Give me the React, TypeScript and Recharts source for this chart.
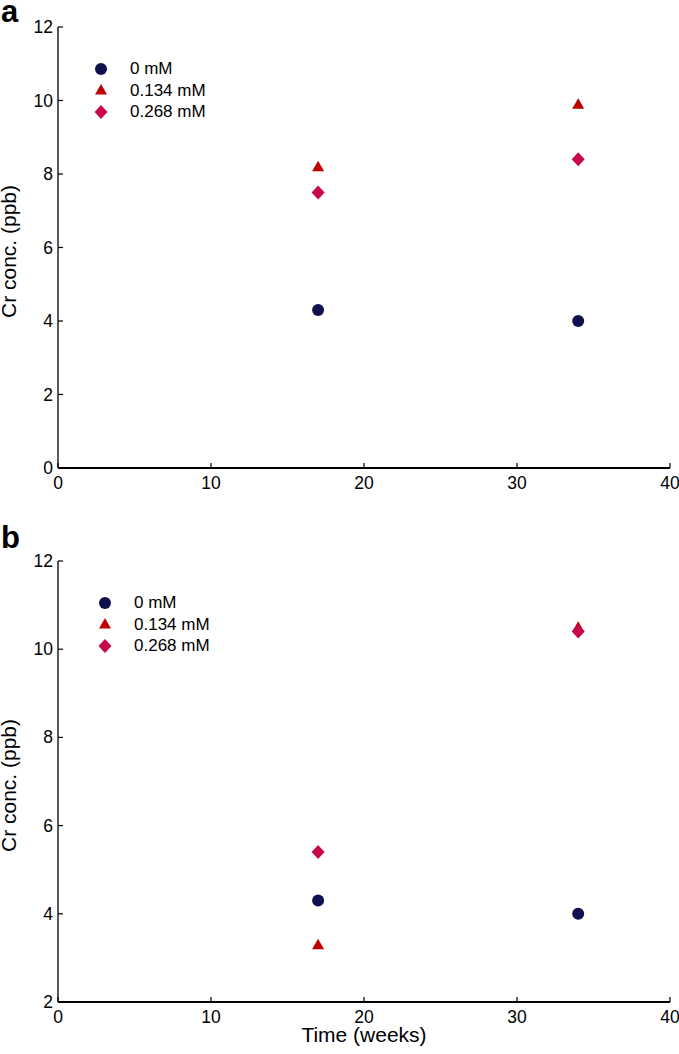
import { ScatterChart, Scatter, XAxis, YAxis, Legend } from "recharts";

// time points (weeks) shared by both panels
const weeks = [17, 34];

// panel a
const aZero = [4.3, 4.0];
const aLow = [8.2, 9.9];
const aHigh = [7.5, 8.4];

// panel b
const bZero = [4.3, 4.0];
const bLow = [3.3, 10.5];
const bHigh = [5.4, 10.4];

const seriesNames = ["0 mM", "0.134 mM", "0.268 mM"];
const xTicks = [0, 10, 20, 30, 40];
const yTicksA = [0, 2, 4, 6, 8, 10, 12];
const yTicksB = [2, 4, 6, 8, 10, 12];

const FONT = '"Liberation Sans", Arial, Helvetica, sans-serif';
const NAVY = "#10104f";
const RED = "#c00000";
const CRIMSON = "#c8084c";
const Y_MARGIN = 5;
const X_MARGIN = 8;
const TICK_FONT = 17.5;
const TITLE_FONT = 21;

const toPoints = (vals: number[]) => weeks.map((w, i) => ({ x: w, y: vals[i] }));

function Marker({ kind, cx, cy, fill }: { kind: string; cx: number; cy: number; fill: string }) {
  if (kind === "triangle") {
    return <path d={`M${cx},${cy - 6} L${cx + 6},${cy + 4.5} L${cx - 6},${cy + 4.5} Z`} fill={fill} />;
  }
  if (kind === "diamond") {
    return <path d={`M${cx},${cy - 7} L${cx + 6.5},${cy} L${cx},${cy + 7} L${cx - 6.5},${cy} Z`} fill={fill} />;
  }
  return <circle cx={cx} cy={cy} r={6} fill={fill} />;
}

const shapeFor = (kind: string, fill: string) => (p: any) =>
  <Marker kind={kind} cx={p.cx} cy={p.cy} fill={fill} />;

function YTick(props: any) {
  const { x, y, payload } = props;
  const ax = x + Y_MARGIN;
  return (
    <g>
      <line x1={ax} x2={ax + 5} y1={y} y2={y} stroke="#000" strokeWidth={1.2} />
      <text x={x} y={y + 6} textAnchor="end" fontSize={TICK_FONT} fontFamily={FONT} fill="#000">
        {payload.value}
      </text>
    </g>
  );
}

function XTick(props: any) {
  const { x, y, payload } = props;
  const ay = y - X_MARGIN;
  return (
    <g>
      <line x1={x} x2={x} y1={ay} y2={ay - 5} stroke="#000" strokeWidth={1.2} />
      <text x={x} y={y + 12.5} textAnchor="middle" fontSize={TICK_FONT} fontFamily={FONT} fill="#000">
        {payload.value}
      </text>
    </g>
  );
}

function YTitle(props: any) {
  const { viewBox } = props;
  const cy = viewBox.y + viewBox.height / 2 + 4;
  return (
    <text x={16} y={cy} transform={`rotate(-90, 16, ${cy})`} textAnchor="middle" fontSize={TITLE_FONT} fontFamily={FONT} fill="#000">
      Cr conc. (ppb)
    </text>
  );
}

function XTitle(props: any) {
  const { viewBox } = props;
  const cx = viewBox.x + viewBox.width / 2;
  return (
    <text x={cx} y={508} textAnchor="middle" fontSize={TITLE_FONT} fontFamily={FONT} fill="#000">
      Time (weeks)
    </text>
  );
}

function LegendBox({ payload }: any) {
  return (
    <div style={{ fontFamily: FONT, fontSize: 17, color: "#000" }}>
      {(payload || []).map((e: any) => (
        <div key={e.value} style={{ display: "flex", alignItems: "center", height: 21.5 }}>
          <svg width={14} height={16} style={{ display: "block" }}>
            <Marker kind={e.type} cx={7} cy={8} fill={e.color} />
          </svg>
          <span style={{ marginLeft: 22, lineHeight: "21.5px" }}>{e.value}</span>
        </div>
      ))}
    </div>
  );
}

function Panel({
  height,
  bottom,
  yMin,
  yTicks,
  zero,
  low,
  high,
  legendLeft,
  showXTitle,
}: {
  height: number;
  bottom: number;
  yMin: number;
  yTicks: number[];
  zero: number[];
  low: number[];
  high: number[];
  legendLeft: number;
  showXTitle: boolean;
}) {
  return (
    <ScatterChart width={679} height={height} margin={{ top: 27, right: 9, bottom: 0, left: 0 }}>
      <XAxis
        type="number"
        dataKey="x"
        domain={[0, 40]}
        ticks={xTicks}
        interval={0}
        height={bottom}
        tickSize={0}
        tickMargin={X_MARGIN}
        tickLine={false}
        tick={<XTick />}
        axisLine={{ stroke: "#000", strokeWidth: 1.8 }}
        label={showXTitle ? { content: <XTitle /> } : undefined}
      />
      <XAxis
        xAxisId="top"
        orientation="top"
        type="number"
        domain={[0, 40]}
        height={0}
        tick={false}
        tickLine={false}
        axisLine={{ stroke: "#000", strokeWidth: 1.3 }}
      />
      <YAxis
        type="number"
        dataKey="y"
        domain={[yMin, 12]}
        ticks={yTicks}
        interval={0}
        width={58}
        tickSize={0}
        tickMargin={Y_MARGIN}
        tickLine={false}
        tick={<YTick />}
        axisLine={{ stroke: "#000", strokeWidth: 1.3 }}
        label={{ content: <YTitle /> }}
      />
      <YAxis
        yAxisId="right"
        orientation="right"
        type="number"
        domain={[yMin, 12]}
        width={0}
        tick={false}
        tickLine={false}
        axisLine={{ stroke: "#000", strokeWidth: 1.3 }}
      />
      <Legend
        layout="vertical"
        align="center"
        verticalAlign="middle"
        wrapperStyle={{ left: legendLeft, top: 58, width: "auto" }}
        content={<LegendBox />}
      />
      <Scatter name={seriesNames[0]} data={toPoints(zero)} fill={NAVY} legendType="circle" shape={shapeFor("circle", NAVY)} isAnimationActive={false} />
      <Scatter name={seriesNames[1]} data={toPoints(low)} fill={RED} legendType="triangle" shape={shapeFor("triangle", RED)} isAnimationActive={false} />
      <Scatter name={seriesNames[2]} data={toPoints(high)} fill={CRIMSON} legendType="diamond" shape={shapeFor("diamond", CRIMSON)} isAnimationActive={false} />
    </ScatterChart>
  );
}

export default function App() {
  return (
    <div style={{ position: "absolute", left: 0, top: 0, width: 679, height: 1054, background: "#fff", fontFamily: FONT }}>
      <div style={{ position: "relative", height: 534 }}>
        <div style={{ position: "absolute", left: 1, top: -6, fontSize: 31, fontWeight: 700, zIndex: 2 }}>a</div>
        <Panel height={534} bottom={66} yMin={0} yTicks={yTicksA} zero={aZero} low={aLow} high={aHigh} legendLeft={94} showXTitle={false} />
      </div>
      <div style={{ position: "relative", height: 520 }}>
        <div style={{ position: "absolute", left: 1, top: -14, fontSize: 31, fontWeight: 700, zIndex: 2 }}>b</div>
        <Panel height={520} bottom={52} yMin={2} yTicks={yTicksB} zero={bZero} low={bLow} high={bHigh} legendLeft={98} showXTitle={true} />
      </div>
    </div>
  );
}
